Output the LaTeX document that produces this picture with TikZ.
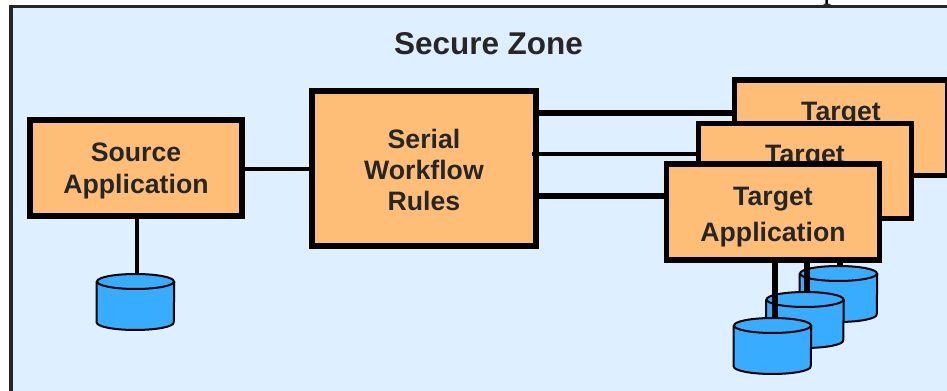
\documentclass[tikz,border=0pt]{standalone}
\usepackage{fontspec}
\setmainfont{Liberation Sans}
\newfontfamily\topfont{Liberation Serif}
\definecolor{zonebg}{HTML}{DEEFFF}
\definecolor{boxfill}{HTML}{FFBE78}
\definecolor{dbfill}{HTML}{38ADFF}
\pgfdeclarelayer{zonelayer}
\pgfdeclarelayer{linksa}
\pgfdeclarelayer{dba}
\pgfdeclarelayer{linksb}
\pgfdeclarelayer{dbb}
\pgfdeclarelayer{linksc}
\pgfdeclarelayer{dbc}
\pgfdeclarelayer{midlink}
\pgfdeclarelayer{front}
\pgfsetlayers{zonelayer,linksa,dba,linksb,dbb,linksc,dbc,main,midlink,front}
\newcommand{\lowered}[2]{\raisebox{-#1}[\height][\depth]{\parbox{150pt}{\centering #2}}}
% \database{name}{x}{y of top ellipse centre}
\newcommand{\database}[3]{%
  \node[dbase] (#1) at (#2,#3) {};
  \fill[dbfill] (#1.west) -- ++(0,41) arc[start angle=180,end angle=0,x radius=38.5,y radius=7.5] -- (#1.east) -- cycle;
  \draw[dbline] (#1.west) -- ++(0,41) arc[start angle=180,end angle=0,x radius=38.5,y radius=7.5] -- (#1.east);
  \draw[dbline,fill=dbfill] (#2,#3) ellipse[x radius=38.5,y radius=7.5];
}
\tikzset{
  appbox/.style={draw=black,line width=4.1pt,fill=boxfill,inner sep=0pt,align=center,text=black!85,anchor=center},
  srcfont/.style={font=\bfseries\fontsize{20}{24}\selectfont},
  tgtfont/.style={font=\bfseries\fontsize{20}{27}\selectfont},
  serfont/.style={font=\bfseries\fontsize{20}{23.2}\selectfont},
  thick link/.style={draw=black,line width=4.3pt},
  thin link/.style={draw=black,line width=3pt},
  dbase/.style={inner sep=0pt,minimum width=57.75pt,minimum height=0pt,text height=0pt,text depth=0pt},
  dbline/.style={draw=black,line width=1.5pt},
}
\begin{document}
\begin{tikzpicture}[x=0.75pt,y=-0.75pt]
\useasboundingbox (0,0) rectangle (947,391);
\begin{pgfonlayer}{zonelayer}
\fill[white] (0,0) rectangle (947,391);
\fill[zonebg] (11,6.5) rectangle (947,391);
\draw[draw=black!85,line width=2.6pt] (947,6.5) -- (11,6.5) -- (11,391);
\end{pgfonlayer}
\node[text=black!85,inner sep=0pt,font=\bfseries\fontsize{23.6}{26}\selectfont] (title) at (488.5,44) {Secure Zone};
\begin{scope}
\clip (0,0) rectangle (947,5);
\node[font=\topfont\fontsize{24}{28}\selectfont,anchor=base,inner sep=0pt] (toptext) at (831,-1) {p};
\end{scope}
% boxes
\node[appbox,srcfont,minimum width=159pt,minimum height=72pt] (source) at (136,168) {\lowered{2.2pt}{Source\\Application}};
\node[appbox,serfont,minimum width=168pt,minimum height=116pt] (serial) at (424,168.5) {\lowered{1.1pt}{Serial\\Workflow\\Rules}};
\begin{pgfonlayer}{front}
\node[appbox,tgtfont,minimum width=160pt,minimum height=71.5pt] (t1) at (841,127.75) {\lowered{3pt}{Target\\\phantom{Application}}};
\node[appbox,tgtfont,minimum width=160pt,minimum height=71.5pt] (t2) at (805,171) {\lowered{3pt}{Target\\\phantom{Application}}};
\node[appbox,tgtfont,minimum width=160pt,minimum height=72pt] (t3) at (773,212) {\lowered{3.7pt}{Target\\Application}};
\end{pgfonlayer}
% databases
\begin{pgfonlayer}{linksc}
\database{dbs}{135.5}{281.5}
\end{pgfonlayer}
\begin{pgfonlayer}{dba}
\database{db1}{838.5}{273.5}
\end{pgfonlayer}
\begin{pgfonlayer}{dbb}
\database{db2}{805}{299.5}
\end{pgfonlayer}
\begin{pgfonlayer}{dbc}
\database{db3}{772.5}{325.5}
\end{pgfonlayer}
% anchor points of the connectors
\coordinate (ca) at (734,113);
\coordinate (cb) at (698,154.5);
\coordinate (cc) at (666,196);
\coordinate (cd) at (532,154.5);
\coordinate (cs) at (245,169);
\coordinate (xs) at (137,274);
\coordinate (xa) at (840,268);
\coordinate (xb) at (806.7,294);
\coordinate (xc) at (774.7,320);
% connectors
\begin{pgfonlayer}{linksa}
\draw[thin link] (cs) -- (cs -| serial.west);
\draw[thin link] (xs |- source.south) -- (xs);
\draw[thick link] (serial.east |- ca) -- (ca);
\draw[thick link] (serial.east |- cc) -- (cc);
\draw[thick link] (xa |- t1.south) -- (xa);
\end{pgfonlayer}
\begin{pgfonlayer}{midlink}
\draw[thin link] (cd) -- (cb);
\end{pgfonlayer}
\begin{pgfonlayer}{linksb}
\draw[thick link] (xb |- t2.south) -- (xb);
\end{pgfonlayer}
\begin{pgfonlayer}{linksc}
\draw[thick link] (xc |- t3.south) -- (xc);
\end{pgfonlayer}
\end{tikzpicture}
\end{document}
